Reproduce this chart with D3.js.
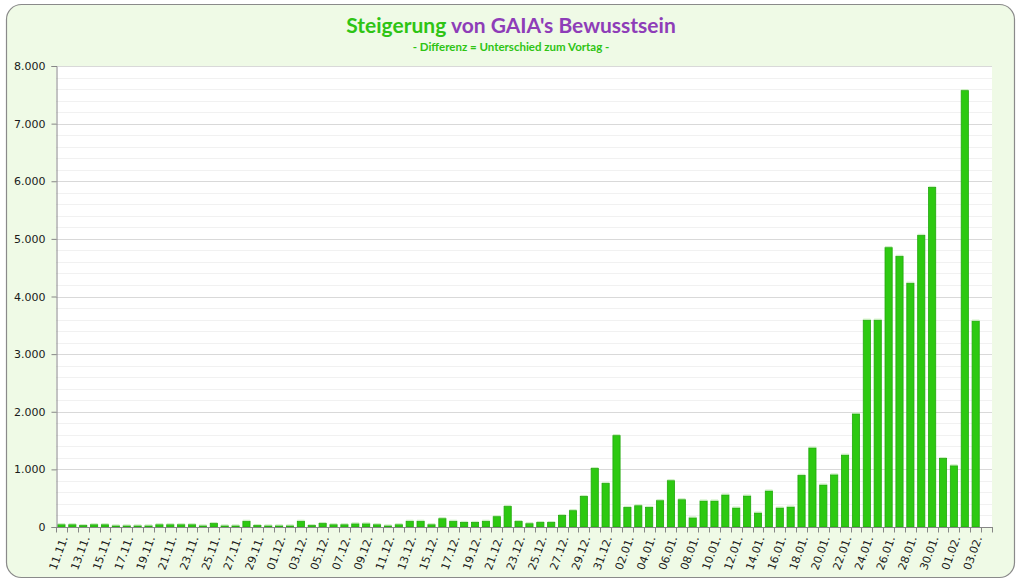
<!DOCTYPE html>
<html><head><meta charset="utf-8">
<script src="https://cdn.jsdelivr.net/npm/d3@7"></script>
<style>body{margin:0;background:#fff}svg{display:block}</style>
</head><body>
<script>
const categories = ["11.11.","12.11.","13.11.","14.11.","15.11.","16.11.","17.11.","18.11.","19.11.","20.11.",
"21.11.","22.11.","23.11.","24.11.","25.11.","26.11.","27.11.","28.11.","29.11.","30.11.",
"01.12.","02.12.","03.12.","04.12.","05.12.","06.12.","07.12.","08.12.","09.12.","10.12.",
"11.12.","12.12.","13.12.","14.12.","15.12.","16.12.","17.12.","18.12.","19.12.","20.12.",
"21.12.","22.12.","23.12.","24.12.","25.12.","26.12.","27.12.","28.12.","29.12.","30.12.","31.12.",
"01.01.","02.01.","03.01.","04.01.","05.01.","06.01.","07.01.","08.01.","09.01.","10.01.",
"11.01.","12.01.","13.01.","14.01.","15.01.","16.01.","17.01.","18.01.","19.01.","20.01.",
"21.01.","22.01.","23.01.","24.01.","25.01.","26.01.","27.01.","28.01.","29.01.","30.01.","31.01.",
"01.02.","02.02.","03.02.","04.02."];
const values = [40,40,25,40,40,20,20,20,20,40,
40,40,40,20,60,20,20,100,25,20,
20,20,100,25,60,40,40,55,55,40,
20,40,100,100,40,145,100,80,80,100,
180,355,95,58,78,78,200,284,530,1015,758,
1586,341,370,341,457,804,474,158,451,451,
556,330,538,243,625,330,347,897,1372,729,
905,1248,1962,3590,3590,4848,4698,4231,5062,5893,1189,
1062,7573,3573,null];
const yTicks = [0,1000,2000,3000,4000,5000,6000,7000,8000];
const titlePart1 = "Steigerung ";
const titlePart2 = "von GAIA's Bewusstsein";
const subtitle = "- Differenz = Unterschied zum Vortag -";

const W = 1018, H = 584;
const m = {l:56, r:W-992, t:66, b:H-527};
const svg = d3.select("body").append("svg").attr("width",W).attr("height",H);

svg.append("rect").attr("x",6.5).attr("y",4.5).attr("width",1008).attr("height",573)
  .attr("rx",15).attr("fill","#effae6").attr("stroke","#8a8a8a").attr("stroke-width",1.2);

const x = d3.scaleBand().domain(categories).range([m.l, W-m.r]).paddingInner(0.34).paddingOuter(0.17);
const y = d3.scaleLinear().domain([0,8000]).range([H-m.b, m.t]);

svg.append("rect").attr("x",m.l).attr("y",m.t).attr("width",W-m.r-m.l).attr("height",H-m.b-m.t).attr("fill","#fff");

// minor grid
const minor = d3.range(0,8001,200).filter(v=>v%1000!==0);
svg.append("g").selectAll("line").data(minor).join("line")
  .attr("x1",m.l).attr("x2",W-m.r).attr("y1",d=>Math.round(y(d))+0.5).attr("y2",d=>Math.round(y(d))+0.5)
  .attr("stroke","#f1f1f1");
svg.append("g").selectAll("line").data(yTicks.slice(1)).join("line")
  .attr("x1",m.l).attr("x2",W-m.r).attr("y1",d=>Math.round(y(d))+0.5).attr("y2",d=>Math.round(y(d))+0.5)
  .attr("stroke","#d9d9d9");

// bars
const data = categories.map((c,i)=>({c, v:values[i]})).filter(d=>d.v!=null);
const bars = svg.append("g");
bars.selectAll("rect").data(data).join("rect")
  .attr("x",d=>x(d.c)).attr("width",x.bandwidth())
  .attr("y",d=>y(d.v)).attr("height",d=>y(0)-y(d.v))
  .attr("fill","#2dc911").attr("stroke","#22a80d").attr("stroke-width",0.8);
bars.selectAll("line").data(data).join("line")
  .attr("x1",d=>x(d.c)).attr("x2",d=>x(d.c)+x.bandwidth())
  .attr("y1",d=>y(d.v)-1).attr("y2",d=>y(d.v)-1)
  .attr("stroke","#c9efbd").attr("stroke-width",1);

// y axis
const yAxis = d3.axisLeft(y).tickValues(yTicks).tickSize(5).tickPadding(6)
  .tickFormat(d=>d3.format(",")(d).replace(/,/g,"."));
const gy = svg.append("g").attr("transform",`translate(${m.l+0.5},0)`).call(yAxis);
gy.select(".domain").attr("stroke","#868686");
gy.selectAll(".tick line").attr("stroke","#868686");
gy.selectAll("text").attr("font-family","DejaVu Sans, Verdana, sans-serif").attr("font-size",11).attr("fill","#1a1a1a");

// x axis
const gx = svg.append("g").attr("transform",`translate(0,${H-m.b+0.5})`);
gx.append("line").attr("x1",m.l).attr("x2",W-m.r+1).attr("stroke","#868686");
const step = x.step();
const bounds = d3.range(categories.length+1).map(i=>m.l + i*(W-m.r-m.l)/categories.length);
gx.selectAll("line.t").data(bounds).join("line").attr("class","t")
  .attr("x1",d=>Math.round(d)+0.5).attr("x2",d=>Math.round(d)+0.5).attr("y1",0).attr("y2",5).attr("stroke","#868686");
gx.selectAll("text").data(categories.filter((c,i)=>i%2===0)).join("text")
  .attr("transform",d=>`translate(${x(d)+x.bandwidth()/2+3},${9}) rotate(-70)`)
  .attr("text-anchor","end").attr("dy","0.35em")
  .attr("font-family","DejaVu Sans, Verdana, sans-serif").attr("font-size",11).attr("fill","#1a1a1a")
  .text(d=>d);

// title
const t = svg.append("text").attr("x",511).attr("y",33).attr("text-anchor","middle")
  .attr("font-family","Lato, 'Open Sans', sans-serif").attr("font-weight","bold").attr("font-size",21);
t.append("tspan").attr("fill","#2ec414").text(titlePart1);
t.append("tspan").attr("fill","#8e3db8").text(titlePart2);
svg.append("text").attr("x",511).attr("y",51).attr("text-anchor","middle")
  .attr("font-family","Lato, 'Open Sans', sans-serif").attr("font-weight","bold").attr("font-size",11.5)
  .attr("fill","#2ec414").text(subtitle);
</script>
</body></html>
